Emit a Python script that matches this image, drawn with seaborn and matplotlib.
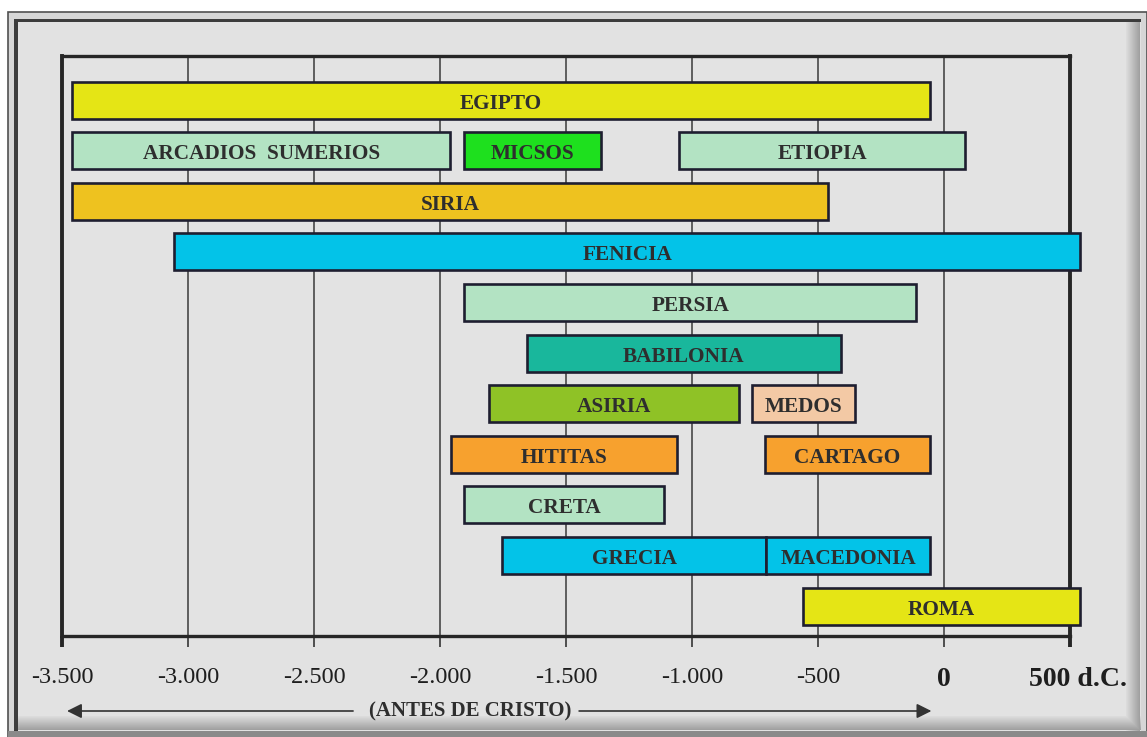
import matplotlib
matplotlib.use("Agg")
import matplotlib.pyplot as plt
from matplotlib.patches import Rectangle
from matplotlib.transforms import ScaledTranslation
import seaborn as sns
import pandas as pd

# ---- data ----
names = ["EGIPTO", "ARCADIOS  SUMERIOS", "MICSOS", "ETIOPIA", "SIRIA", "FENICIA",
         "PERSIA", "BABILONIA", "ASIRIA", "MEDOS", "HITITAS", "CARTAGO",
         "CRETA", "GRECIA", "MACEDONIA", "ROMA"]
rows = [0, 1, 1, 1, 2, 3, 4, 5, 6, 6, 7, 7, 8, 9, 9, 10]
starts = [-3460, -3460, -1905, -1050, -3460, -3055, -1905, -1655, -1805, -760,
          -1955, -710, -1905, -1755, -705, -560]
ends = [-55, -1960, -1360, 85, -460, 540, -110, -410, -815, -355,
        -1060, -55, -1110, -705, -55, 540]
colors = ["#e5e515", "#b3e3c3", "#1ee01e", "#b3e3c3", "#eec21f", "#03c3e8",
          "#b3e3c3", "#19b79c", "#8fc226", "#f3c9a5", "#f7a12e", "#f7a12e",
          "#b3e3c3", "#03c3e8", "#03c3e8", "#e5e515"]
tick_vals = [-3500, -3000, -2500, -2000, -1500, -1000, -500, 0, 500]
tick_labels = ["-3.500", "-3.000", "-2.500", "-2.000", "-1.500", "-1.000", "-500", "0", "500 d.C."]
axis_note = "(ANTES DE CRISTO)"

SERIF = ["Liberation Serif", "DejaVu Serif"]
W, H = 1147, 737
fig = plt.figure(figsize=(W / 100, H / 100), dpi=100, facecolor="white")


def fx(px):
    return px / W


def fy(py):
    return 1 - py / H


def frect(x0, y0, x1, y1, **kw):
    r = Rectangle((fx(x0), fy(y1)), fx(x1) - fx(x0), fy(y0) - fy(y1),
                  transform=fig.transFigure, **kw)
    fig.add_artist(r)
    return r


# ---- panel frame ----
frect(8, 12, 1147, 737, facecolor="#d6d6d6", edgecolor="#505050", lw=1.2, zorder=-10)
frect(15, 19, 1141, 731, facecolor="#e2e2e2", edgecolor="none", zorder=-9)
n = 14
for k in range(n):
    g = 0.86 - 0.25 * k / n
    frect(1126 + k, 19 + k * 0.2, 1127 + k, 731, facecolor=(g, g, g), edgecolor="none", zorder=-8)
    frect(15 + k * 0.2, 716 + k, 1141, 717 + k, facecolor=(g, g, g), edgecolor="none", zorder=-8)
frect(15, 19, 1141, 22, facecolor="#3c3c3c", edgecolor="none", zorder=-7)
frect(14, 19, 18, 731, facecolor="#3c3c3c", edgecolor="none", zorder=-7)
frect(8, 731, 1147, 737, facecolor="#8a8a8a", edgecolor="none", zorder=-7)

# ---- axes ----
ax = fig.add_axes([fx(62), fy(636), fx(1070) - fx(62), fy(56) - fy(636)])
ax.set_facecolor("#e3e3e3")

for i in range(len(names)):
    d = pd.DataFrame({"row": [rows[i]], "dur": [ends[i] - starts[i]]})
    sns.barplot(data=d, x="dur", y="row", orient="y", native_scale=True,
                left=starts[i], width=0.73, color=colors[i], saturation=1,
                edgecolor="#1e1e30", linewidth=1.9, errorbar=None, ax=ax,
                zorder=3, clip_on=False)

for i in range(len(names)):
    ax.text((starts[i] + ends[i]) / 2, rows[i] + 0.07, names[i], ha="center", va="center",
            fontsize=15.3, fontweight="bold", family=SERIF, color="#2e2e2e", zorder=5)

ax.set_xlim(-3500, 500)
ax.set_ylim(10.59, -0.87)
ax.set_xlabel("")
ax.set_ylabel("")
ax.set_yticks([])
ax.set_xticks(tick_vals, labels=tick_labels)
ax.set_axisbelow(True)
ax.grid(axis="x", color="#3a3a3a", lw=1.1)
ax.grid(axis="y", visible=False)

for s in ax.spines.values():
    s.set_color("#262626")
ax.spines["left"].set_linewidth(2.8)
ax.spines["right"].set_linewidth(2.8)
ax.spines["top"].set_linewidth(2.4)
ax.spines["bottom"].set_linewidth(2.4)

ax.tick_params(axis="x", direction="out", length=8, width=1.1, color="#262626",
               pad=14)
for lab in ax.get_xticklabels():
    lab.set_family(SERIF)
    lab.set_fontsize(17.5)
    lab.set_color("#1e1e1e")
for lab in ax.get_xticklabels()[-2:]:
    lab.set_fontweight("bold")
    lab.set_fontsize(20)
last = ax.get_xticklabels()[-1]
last.set_transform(last.get_transform() + ScaledTranslation(8 / 100, 0, fig.dpi_scale_trans))
ticks = ax.xaxis.get_major_ticks()
for t in (ticks[0], ticks[-1]):
    t.tick1line.set_markeredgewidth(2.8)

# ---- bottom arrow note ----
ya = fy(711)
fig.text(fx(470), ya, axis_note, ha="center", va="center", fontsize=15,
         fontweight="bold", family=SERIF, color="#2e2e2e")
ap = dict(arrowstyle="-|>", color="#333333", lw=1.2, mutation_scale=22,
          shrinkA=0, shrinkB=0)
ax.annotate("", xy=(-3480, ya), xytext=(-2345, ya),
            xycoords=("data", "figure fraction"), arrowprops=ap, annotation_clip=False)
ax.annotate("", xy=(-50, ya), xytext=(-1448, ya),
            xycoords=("data", "figure fraction"), arrowprops=ap, annotation_clip=False)

fig.savefig("out.png", dpi=100, facecolor="white")
